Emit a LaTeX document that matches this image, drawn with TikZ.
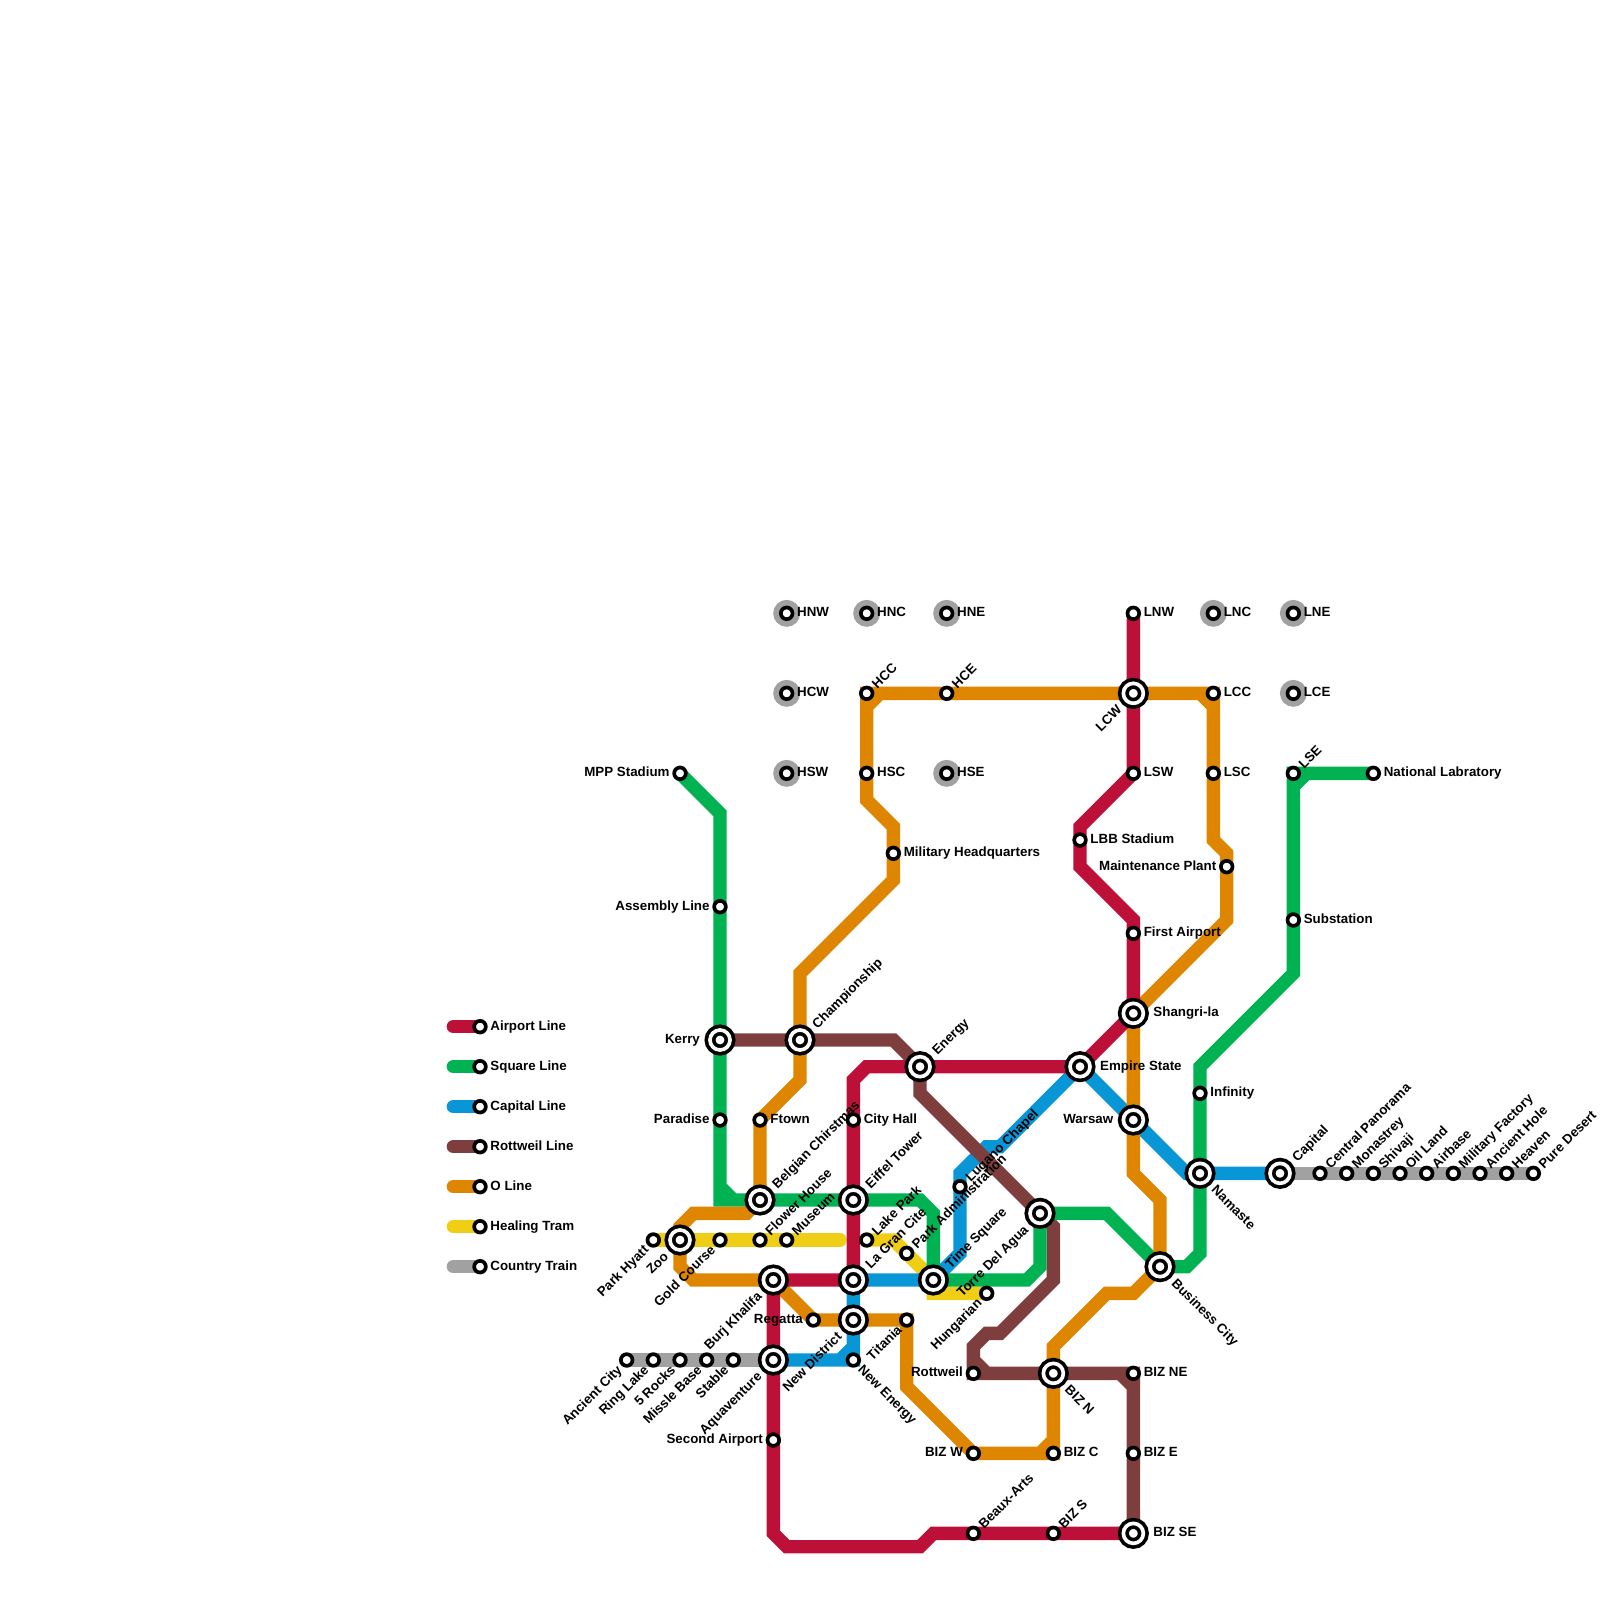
\documentclass[tikz,border=0pt]{standalone}
\usepackage{fontspec}
\setmainfont{Liberation Sans}
\usetikzlibrary{backgrounds}
\definecolor{airportred}{HTML}{BD1038}
\definecolor{squaregreen}{HTML}{00B251}
\definecolor{capitalblue}{HTML}{0896D7}
\definecolor{rottbrown}{HTML}{7F3E3E}
\definecolor{olineorange}{HTML}{DF8600}
\definecolor{tramyellow}{HTML}{F0CE15}
\definecolor{countrygray}{HTML}{A1A1A1}
\begin{document}
\begin{tikzpicture}[
        x=0.2cm, y=-0.2cm,
        every node/.style={font=\fontsize{5.69pt}{6pt}\selectfont\bfseries},
        lineseg/.style={line width=0.2cm, line cap=round, line join=miter},
        stop/.style={circle, draw=black, fill=white, line width=0.055cm, minimum size=0.175cm, inner sep=0pt, outer sep=0pt},
        hub/.style={circle, draw=black, fill=white, double=white, double distance=0.055cm, line width=0.055cm, minimum size=0.3cm, inner sep=0pt, outer sep=0pt},
        rural/.style={stop, preaction={draw=countrygray, line width=0.225cm}},
        lbl/.style={inner xsep=0.15cm, inner ysep=0pt, text height=4.1pt, text depth=0pt},
        lblE/.style={lbl, anchor=west, text depth=1.14pt},
        lblW/.style={lbl, anchor=east, text depth=1.14pt},
        lblNE/.style={lbl, anchor=west, rotate=45},
        lblSW/.style={lbl, anchor=east, rotate=45},
        lblSE/.style={lbl, anchor=west, rotate=-45},
        far/.style={inner xsep=0.295cm}
    ]
    \useasboundingbox (0,0) rectangle (120,120);

    \node[stop] (legairport) at (36,77) {};  \node[lblE] (legairportl) at (legairport) {Airport Line};
    \node[stop] (legsquare) at (36,80) {};   \node[lblE] (legsquarel) at (legsquare) {Square Line};
    \node[stop] (legcapital) at (36,83) {};  \node[lblE] (legcapitall) at (legcapital) {Capital Line};
    \node[stop] (legrott) at (36,86) {};     \node[lblE] (legrottl) at (legrott) {Rottweil Line};
    \node[stop] (legoline) at (36,89) {};    \node[lblE] (legolinel) at (legoline) {O Line};
    \node[stop] (legtram) at (36,92) {};     \node[lblE] (legtraml) at (legtram) {Healing Tram};
    \node[stop] (legcountry) at (36,95) {};  \node[lblE] (legcountryl) at (legcountry) {Country Train};
    \coordinate (legairportend) at (34,77);
    \coordinate (legsquareend) at (34,80);
    \coordinate (legcapitalend) at (34,83);
    \coordinate (legrottend) at (34,86);
    \coordinate (legolineend) at (34,89);
    \coordinate (legtramend) at (34,92);
    \coordinate (legcountryend) at (34,95);

    \node[rural] (hnw) at (59,46) {};  \node[lblE] (hnwl) at (hnw) {HNW};
    \node[rural] (hcw) at (59,52) {};  \node[lblE] (hcwl) at (hcw) {HCW};
    \node[rural] (hsw) at (59,58) {};  \node[lblE] (hswl) at (hsw) {HSW};
    \node[rural] (hnc) at (65,46) {};  \node[lblE] (hncl) at (hnc) {HNC};
    \node[stop] (hcc) at (65,52) {};   \node[lblNE] (hccl) at (hcc) {HCC};
    \node[stop] (hsc) at (65,58) {};   \node[lblE] (hscl) at (hsc) {HSC};
    \node[rural] (hne) at (71,46) {};  \node[lblE] (hnel) at (hne) {HNE};
    \node[stop] (hce) at (71,52) {};   \node[lblNE] (hcel) at (hce) {HCE};
    \node[rural] (hse) at (71,58) {};  \node[lblE] (hsel) at (hse) {HSE};
    \node[stop] (milhq) at (67,64) {}; \node[lblE] (milhql) at (milhq) {Military Headquarters};

    \node[stop] (lnw) at (85,46) {};   \node[lblE] (lnwl) at (lnw) {LNW};
    \node[rural] (lnc) at (91,46) {};  \node[lblE] (lncl) at (lnc) {LNC};
    \node[rural] (lne) at (97,46) {};  \node[lblE] (lnel) at (lne) {LNE};
    \node[hub] (lcw) at (85,52) {};    \node[lblSW, far] (lcwl) at (lcw) {LCW};
    \node[stop] (lcc) at (91,52) {};   \node[lblE] (lccl) at (lcc) {LCC};
    \node[rural] (lce) at (97,52) {};  \node[lblE] (lcel) at (lce) {LCE};
    \node[stop] (lsw) at (85,58) {};   \node[lblE] (lswl) at (lsw) {LSW};
    \node[stop] (lsc) at (91,58) {};   \node[lblE] (lscl) at (lsc) {LSC};
    \node[stop] (lse) at (97,58) {};   \node[lblNE] (lsel) at (lse) {LSE};
    \node[stop] (natlab) at (103,58) {}; \node[lblE] (natlabl) at (natlab) {National Labratory};
    \node[stop] (lbb) at (81,63) {};   \node[lblE] (lbbl) at (lbb) {LBB Stadium};
    \node[stop] (maint) at (92,65) {}; \node[lblW] (maintl) at (maint) {Maintenance Plant};
    \node[stop] (firstair) at (85,70) {}; \node[lblE] (firstairl) at (firstair) {First Airport};
    \node[stop] (subst) at (97,69) {}; \node[lblE] (substl) at (subst) {Substation};
    \node[hub] (shangri) at (85,76) {}; \node[lblE, far] (shangril) at (shangri) {Shangri-la};
    \node[hub] (empire) at (81,80) {}; \node[lblE, far] (empirel) at (empire) {Empire State};
    \node[hub] (warsaw) at (85,84) {}; \node[lblW, far] (warsawl) at (warsaw) {Warsaw};
    \node[stop] (infinity) at (90,82) {}; \node[lblE] (infinityl) at (infinity) {Infinity};
    \node[hub] (namaste) at (90,88) {}; \node[lblSE, far] (namastel) at (namaste) {Namaste};
    \node[hub] (capital) at (96,88) {}; \node[lblNE, far] (capitall) at (capital) {Capital};
    \node[stop] (central) at (99,88) {}; \node[lblNE] (centrall) at (central) {Central Panorama};
    \node[stop] (monast) at (101,88) {}; \node[lblNE] (monastl) at (monast) {Monastrey};
    \node[stop] (shivaji) at (103,88) {}; \node[lblNE] (shivajil) at (shivaji) {Shivaji};
    \node[stop] (oilland) at (105,88) {}; \node[lblNE] (oillandl) at (oilland) {Oil Land};
    \node[stop] (airbase) at (107,88) {}; \node[lblNE] (airbasel) at (airbase) {Airbase};
    \node[stop] (milfac) at (109,88) {}; \node[lblNE] (milfacl) at (milfac) {Military Factory};
    \node[stop] (anchole) at (111,88) {}; \node[lblNE] (anchol) at (anchole) {Ancient Hole};
    \node[stop] (heaven) at (113,88) {}; \node[lblNE] (heavenl) at (heaven) {Heaven};
    \node[stop] (puredes) at (115,88) {}; \node[lblNE] (puredesl) at (puredes) {Pure Desert};

    \node[stop] (mpp) at (51,58) {};   \node[lblW] (mppl) at (mpp) {MPP Stadium};
    \node[stop] (assembly) at (54,68) {}; \node[lblW] (assemblyl) at (assembly) {Assembly Line};
    \node[hub] (kerry) at (54,78) {};  \node[lblW, far] (kerryl) at (kerry) {Kerry};
    \node[hub] (champ) at (60,78) {};  \node[lblNE, far] (champl) at (champ) {Championship};
    \node[stop] (paradise) at (54,84) {}; \node[lblW] (paradisel) at (paradise) {Paradise};
    \node[stop] (ftown) at (57,84) {}; \node[lblE] (ftownl) at (ftown) {Ftown};
    \node[hub] (belgian) at (57,90) {}; \node[lblNE, far] (belgianl) at (belgian) {Belgian Chirstmas};
    \node[hub] (zoo) at (51,93) {};    \node[lblSW, far] (zool) at (zoo) {Zoo};
    \node[stop] (hyatt) at (49,93) {}; \node[lblSW] (hyattl) at (hyatt) {Park Hyatt};
    \node[stop] (gold) at (54,93) {};  \node[lblSW] (goldl) at (gold) {Gold Course};
    \node[stop] (flower) at (57,93) {}; \node[lblNE] (flowerl) at (flower) {Flower House};
    \node[stop] (museum) at (59,93) {}; \node[lblNE] (museuml) at (museum) {Museum};
    \node[hub] (burj) at (58,96) {};   \node[lblSW, far] (burjl) at (burj) {Burj Khalifa};
    \node[stop] (regatta) at (61,99) {}; \node[lblW] (regattal) at (regatta) {Regatta};
    \node[stop] (ancient) at (47,102) {}; \node[lblSW] (ancientl) at (ancient) {Ancient City};
    \node[stop] (ring) at (49,102) {}; \node[lblSW] (ringl) at (ring) {Ring Lake};
    \node[stop] (rocks) at (51,102) {}; \node[lblSW] (rocksl) at (rocks) {5 Rocks};
    \node[stop] (missle) at (53,102) {}; \node[lblSW] (misslel) at (missle) {Missle Base};
    \node[stop] (stable) at (55,102) {}; \node[lblSW] (stablel) at (stable) {Stable};
    \node[hub] (aqua) at (58,102) {};  \node[lblSW, far] (aqual) at (aqua) {Aquaventure};
    \node[stop] (second) at (58,108) {}; \node[lblW] (secondl) at (second) {Second Airport};

    \node[stop] (city) at (64,84) {};  \node[lblE] (cityl) at (city) {City Hall};
    \node[hub] (eiffel) at (64,90) {}; \node[lblNE, far] (eiffell) at (eiffel) {Eiffel Tower};
    \node[stop] (lake) at (65,93) {};  \node[lblNE] (lakel) at (lake) {Lake Park};
    \node[hub] (lagran) at (64,96) {}; \node[lblNE, far] (lagranl) at (lagran) {La Gran Cite};
    \node[hub] (newdist) at (64,99) {}; \node[lblSW, far] (newdistl) at (newdist) {New District};
    \node[stop] (newen) at (64,102) {}; \node[lblSE] (newenl) at (newen) {New Energy};
    \node[stop] (parkadm) at (68,94) {}; \node[lblNE] (parkadml) at (parkadm) {Park Administration};
    \node[stop] (titania) at (68,99) {}; \node[lblSW] (titanial) at (titania) {Titania};
    \node[hub] (energy) at (69,80) {}; \node[lblNE, far] (energyl) at (energy) {Energy};
    \node[stop] (lugano) at (72,89) {}; \node[lblNE] (luganol) at (lugano) {Lugano Chapel};
    \node[hub] (timesq) at (70,96) {}; \node[lblNE, far] (timesql) at (timesq) {Time Square};
    \node[stop] (hungar) at (74,97) {}; \node[lblSW] (hungarl) at (hungar) {Hungarian};
    \node[hub] (torre) at (78,91) {};  \node[lblSW, far] (torrel) at (torre) {Torre Del Agua};
    \node[hub] (bizcity) at (87,95) {}; \node[lblSE, far] (bizcityl) at (bizcity) {Business City};

    \node[stop] (rottw) at (73,103) {}; \node[lblW] (rottwl) at (rottw) {Rottweil};
    \node[hub] (bizn) at (79,103) {};  \node[lblSE, far] (biznl) at (bizn) {BIZ N};
    \node[stop] (bizne) at (85,103) {}; \node[lblE] (biznel) at (bizne) {BIZ NE};
    \node[stop] (bizw) at (73,109) {}; \node[lblW] (bizwl) at (bizw) {BIZ W};
    \node[stop] (bizc) at (79,109) {}; \node[lblE] (bizcl) at (bizc) {BIZ C};
    \node[stop] (bize) at (85,109) {}; \node[lblE] (bizel) at (bize) {BIZ E};
    \node[stop] (beaux) at (73,115) {}; \node[lblNE] (beauxl) at (beaux) {Beaux-Arts};
    \node[stop] (bizs) at (79,115) {}; \node[lblNE] (bizsl) at (bizs) {BIZ S};
    \node[hub] (bizse) at (85,115) {}; \node[lblE, far] (bizsel) at (bizse) {BIZ SE};

    \begin{pgfonlayer}{background}
    \draw[lineseg, tramyellow] (legtramend) -- (legtram.center);
    \draw[lineseg, tramyellow] (hyatt.center) -- (zoo.center) -- (gold.center) -- (flower.center) -- (museum.center) -- (63,93);
    \draw[lineseg, tramyellow] (lake.center) -- (67,93) -- (timesq.center) -- (70,97) -- (hungar.center);

    \draw[lineseg, countrygray] (legcountryend) -- (legcountry.center);
    \draw[lineseg, countrygray] (ancient.center) -- (ring.center) -- (rocks.center) -- (missle.center) -- (stable.center) -- (aqua.center);
    \draw[lineseg, countrygray] (capital.center) -- (central.center) -- (puredes.center);

    \draw[lineseg, capitalblue] (legcapitalend) -- (legcapital.center);
    \draw[lineseg, capitalblue] (aqua.center) -- (newen.center) -- (newdist.center) -- (lagran.center) -- (timesq.center) -- (parkadm.center -| lugano.center) -- (lugano.center) -- (72,88) -- (74,86) -- (75,86) -- (empire.center) -- (warsaw.center) -- (89,88) -- (capital.center)
        (63,102) -- (64,101);

    \draw[lineseg, rottbrown] (legrottend) -- (legrott.center);
    \draw[lineseg, rottbrown] (kerry.center) -- (champ.center) -- (67,78) -- (energy.center) -- (69,82) -- (torre.center) -- (79,92) -- (79,96) -- (75,100) -- (74,100) -- (73,101) -- (rottw.center) -- (bizn.center) -- (bizne.center) -- (bize.center) -- (bizse.center)
        (73,102) -- (74,103)
        (84,103) -- (85,104);

    \draw[lineseg, squaregreen] (legsquareend) -- (legsquare.center);
    \draw[lineseg, squaregreen] (mpp.center) -- (54,61) -- (assembly.center) -- (kerry.center) -- (paradise.center) -- (54,90) -- (belgian.center) -- (eiffel.center) -- (69,90) -- (70,91) -- (timesq.center) -- (77,96) -- (78,95) -- (torre.center) -- (83,91) -- (bizcity.center) -- (89,95) -- (90,94) -- (namaste.center) -- (infinity.center) -- (90,80) -- (97,73) -- (subst.center) -- (lse.center) -- (natlab.center)
        (54,89) -- (55,90)
        (97,59) -- (98,58);

    \draw[lineseg, olineorange] (legolineend) -- (legoline.center);
    \draw[lineseg, olineorange] (belgian.center) -- (56,91) -- (52,91) -- (51,92) -- (51,95) -- (52,96) -- (burj.center) -- (regatta.center) -- (newdist.center) -- (titania.center) -- (68,104) -- (bizw.center) -- (bizc.center) -- (bizn.center) -- (79,101) -- (83,97) -- (85,97) -- (bizcity.center) -- (87,90) -- (85,88) -- (warsaw.center) -- (shangri.center) -- (92,69) -- (maint.center) -- (92,64) -- (91,63) -- (lsc.center) -- (lcc.center) -- (lcw.center) -- (hce.center) -- (hcc.center) -- (hsc.center) -- (65,60) -- (67,62) -- (milhq.center) -- (67,66) -- (60,73) -- (champ.center) -- (60,81) -- (ftown.center) -- (belgian.center)
        (78,109) -- (79,108)
        (90,52) -- (91,53)
        (66,52) -- (65,53);

    \draw[lineseg, airportred] (legairportend) -- (legairport.center);
    \draw[lineseg, airportred] (lnw.center) -- (lcw.center) -- (lsw.center) -- (81,62) -- (lbb.center) -- (81,65) -- (85,69) -- (firstair.center) -- (shangri.center) -- (empire.center) -- (energy.center) -- (65,80) -- (64,81) -- (city.center) -- (eiffel.center) -- (lagran.center) -- (burj.center) -- (aqua.center) -- (second.center) -- (58,115) -- (59,116) -- (69,116) -- (70,115) -- (beaux.center) -- (bizs.center) -- (bizse.center);
    \end{pgfonlayer}
\end{tikzpicture}
\end{document}
